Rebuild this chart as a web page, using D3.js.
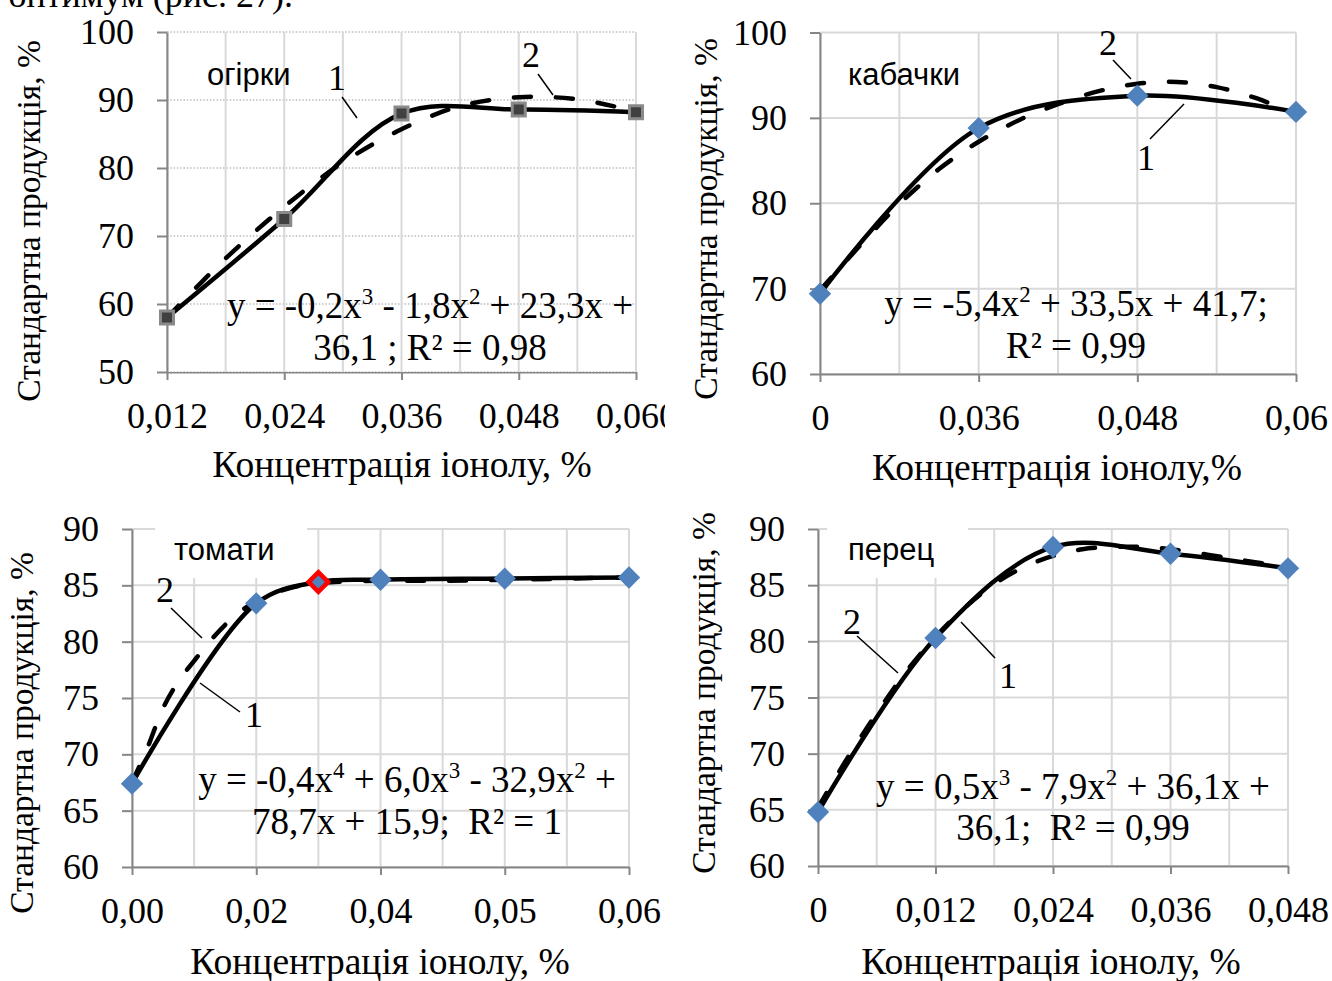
<!DOCTYPE html>
<html>
<head>
<meta charset="utf-8">
<script src="https://cdn.jsdelivr.net/npm/d3@7"></script>
<style>
  body { margin: 0; background: #fff; }
  svg { display: block; }
</style>
</head>
<body>
<svg id="chart" width="1332" height="981"></svg>
<script>
'use strict';

// ---- data ----

// огірки
var cucX = [0.012, 0.024, 0.036, 0.048, 0.060];
var cucY = [58.0, 72.5, 88.0, 88.6, 88.2];
var cucTrendX = [0.012, 0.018, 0.024, 0.030, 0.036, 0.042, 0.048, 0.054, 0.060];
var cucTrendY = [58.0, 66.7, 74.3, 80.8, 85.7, 89.1, 90.4, 90.1, 88.3];
var cucTicks = [0.012, 0.024, 0.036, 0.048, 0.060];
var cucTickLabels = ['0,012', '0,024', '0,036', '0,048', '0,060'];
var cucGrid = [0.012, 0.018, 0.024, 0.030, 0.036, 0.042, 0.048, 0.054, 0.060];
var cucYTicks = [50, 60, 70, 80, 90, 100];

// кабачки
var zucX = [0, 0.036, 0.048, 0.06];
var zucY = [69.4, 88.8, 92.6, 90.7];
var zucTrendX = [0, 0.009, 0.018, 0.027, 0.036, 0.039, 0.042, 0.045, 0.048, 0.051, 0.054, 0.057, 0.06];
var zucTrendY = [69.8, 75.0, 79.9, 84.0, 87.2, 89.7, 91.6, 93.1, 94.0, 94.2, 93.6, 92.3, 90.4];
var zucTicks = [0, 0.036, 0.048, 0.06];
var zucTickLabels = ['0', '0,036', '0,048', '0,06'];
var zucGrid = [0, 0.018, 0.036, 0.042, 0.048, 0.054, 0.06];
var zucYTicks = [60, 70, 80, 90, 100];

// томати
var tomX = [0, 0.02, 0.03, 0.04, 0.05, 0.06];
var tomY = [67.4, 83.4, 85.3, 85.5, 85.6, 85.7];
var tomBest = 0.03;
var tomTrendX = [0, 0.0025, 0.005, 0.0075, 0.01, 0.0125, 0.015, 0.0175, 0.02, 0.025, 0.03, 0.04, 0.045, 0.05, 0.055, 0.06];
var tomTrendY = [67.5, 70.6, 74.1, 76.5, 78.3, 80.0, 81.5, 82.7, 83.6, 84.7, 85.2, 85.4, 85.4, 85.5, 85.6, 85.7];
var tomTicks = [0, 0.02, 0.04, 0.05, 0.06];
var tomTickLabels = ['0,00', '0,02', '0,04', '0,05', '0,06'];
var tomGrid = [0, 0.01, 0.02, 0.03, 0.04, 0.045, 0.05, 0.055, 0.06];
var tomYTicks = [60, 65, 70, 75, 80, 85, 90];

// перец
var pepX = [0, 0.012, 0.024, 0.036, 0.048];
var pepY = [64.8, 80.3, 88.4, 87.8, 86.5];
var pepTrendX = [0, 0.003, 0.006, 0.009, 0.012, 0.015, 0.018, 0.021, 0.024, 0.027, 0.030, 0.033, 0.036, 0.042, 0.048];
var pepTrendY = [65.2, 69.6, 73.6, 77.3, 80.4, 83.0, 85.1, 86.6, 87.6, 88.2, 88.4, 88.4, 88.2, 87.4, 86.6];
var pepTicks = [0, 0.012, 0.024, 0.036, 0.048];
var pepTickLabels = ['0', '0,012', '0,024', '0,036', '0,048'];
var pepGrid = [0, 0.006, 0.012, 0.018, 0.024, 0.030, 0.036, 0.042, 0.048];
var pepYTicks = [60, 65, 70, 75, 80, 85, 90];

// ---- layout / style ----
var SERIF = '"Liberation Serif", "Times New Roman", serif';
var SANS = '"Liberation Sans", Arial, sans-serif';
var FS = 36;        // tick labels, callouts
var FS_EQ = 37;     // trend equations
var FS_XT = 37.5;   // x axis titles
var FS_YT = 33.5;   // y axis titles
var AXIS = '#868686';
var GRID = '#d9d9d9';
var BLUE = '#4f81bd';
var YTITLE = 'Стандартна продукція, %';

var panels = [
    {
        xs: cucX, ys: cucY, trendX: cucTrendX, trendY: cucTrendY,
        ticks: cucTicks, tickLabels: cucTickLabels, grid: cucGrid, yTicks: cucYTicks,
        box: {left: 167, right: 636, top: 32, bottom: 372},
        marker: 'square', dotted: true, clipRight: 665,
        name: 'огірки', nameAt: [207, 85], nameBox: null,
        xTitle: 'Концентрація іонолу, %', xTitleAt: [402, 477], yTitleAt: [40, 221],
        eq: ['y = -0,2x^3 - 1,8x^2 + 23,3x +', '36,1 ; R² = 0,98'], eqAt: [430, 318, 360],
        callouts: [
            {t: '1', at: [337, 90], line: [342, 97, 357, 118]},
            {t: '2', at: [531, 67], line: [538, 74, 553, 95]}
        ]
    },
    {
        xs: zucX, ys: zucY, trendX: zucTrendX, trendY: zucTrendY,
        ticks: zucTicks, tickLabels: zucTickLabels, grid: zucGrid, yTicks: zucYTicks,
        box: {left: 820, right: 1296, top: 32.5, bottom: 374},
        marker: 'diamond', dotted: false,
        name: 'кабачки', nameAt: [848, 85], nameBox: null,
        xTitle: 'Концентрація іонолу,%', xTitleAt: [1057, 480], yTitleAt: [717, 219],
        eq: ['y = -5,4x^2 + 33,5x + 41,7;', 'R² = 0,99'], eqAt: [1076, 316, 358],
        callouts: [
            {t: '2', at: [1108, 55], line: [1113, 60, 1131, 79]},
            {t: '1', at: [1146, 170], line: [1150, 139, 1184, 104]}
        ]
    },
    {
        xs: tomX, ys: tomY, trendX: tomTrendX, trendY: tomTrendY, best: tomBest,
        ticks: tomTicks, tickLabels: tomTickLabels, grid: tomGrid, yTicks: tomYTicks,
        box: {left: 132, right: 629, top: 529, bottom: 867},
        marker: 'diamond', dotted: false,
        name: 'томати', nameAt: [174, 560], nameBox: [-19, 152],
        xTitle: 'Концентрація іонолу, %', xTitleAt: [380, 974], yTitleAt: [33, 733],
        eq: ['y = -0,4x^4 + 6,0x^3 - 32,9x^2 +', '78,7x + 15,9;  R² = 1'], eqAt: [407, 792, 834],
        callouts: [
            {t: '2', at: [165, 602], line: [171, 608, 202, 638]},
            {t: '1', at: [254, 727], line: [200, 683, 240, 712]}
        ]
    },
    {
        xs: pepX, ys: pepY, trendX: pepTrendX, trendY: pepTrendY,
        ticks: pepTicks, tickLabels: pepTickLabels, grid: pepGrid, yTicks: pepYTicks,
        box: {left: 818, right: 1288, top: 529, bottom: 866},
        marker: 'diamond', dotted: false,
        name: 'перец', nameAt: [848, 560], nameBox: [-21, 141],
        xTitle: 'Концентрація іонолу, %', xTitleAt: [1051, 974], yTitleAt: [715, 693],
        eq: ['y = 0,5x^3 - 7,9x^2 + 36,1x +', '36,1;  R² = 0,99'], eqAt: [1073, 799, 840],
        callouts: [
            {t: '2', at: [852, 634], line: [857, 636, 898, 673]},
            {t: '1', at: [1008, 688], line: [961, 622, 995, 658]}
        ]
    }
];

var svg = d3.select('#chart');

// cut-off line of body text above the figure
svg.append('text')
    .attr('x', 293).attr('y', 7)
    .attr('text-anchor', 'end')
    .style('font-family', SERIF).style('font-size', FS + 'px')
    .text('оптимум (рис. 27).');

// Writes "x^3" style strings as text with raised tspans.
function richText(sel, str, fs) {
    var rise = 0;
    str.split(/\^(\d)/).forEach(function(part, i) {
        if (!part) return;
        var ts = sel.append('tspan').text(part);
        if (i % 2 === 1) {
            rise = fs * 0.38;
            ts.attr('dy', -rise).style('font-size', (fs * 0.62) + 'px');
        } else if (rise) {
            ts.attr('dy', rise);
            rise = 0;
        }
    });
}

panels.forEach(function(p, pi) {
    var b = p.box;
    var g = svg.append('g');

    // evenly spaced (possibly piecewise) x scale through the tick values
    var n = p.ticks.length;
    var x = d3.scaleLinear()
        .domain(p.ticks)
        .range(p.ticks.map(function(d, i) { return b.left + i * (b.right - b.left) / (n - 1); }));
    var y = d3.scaleLinear()
        .domain(d3.extent(p.yTicks))
        .range([b.bottom, b.top]);

    // gridlines
    g.append('g').selectAll('line')
        .data(p.yTicks)
        .join('line')
        .attr('x1', b.left).attr('x2', b.right)
        .attr('y1', function(d) { return y(d); })
        .attr('y2', function(d) { return y(d); })
        .attr('stroke', p.dotted ? '#bdbdbd' : GRID)
        .attr('stroke-width', p.dotted ? 1.5 : 2)
        .attr('stroke-dasharray', p.dotted ? '1.5,1.8' : null);

    g.append('g').selectAll('line')
        .data(p.grid)
        .join('line')
        .attr('x1', function(d) { return x(d); })
        .attr('x2', function(d) { return x(d); })
        .attr('y1', b.top).attr('y2', b.bottom)
        .attr('stroke', GRID)
        .attr('stroke-width', 2);

    // white box behind the crop name
    if (p.nameBox) {
        g.append('rect')
            .attr('x', p.nameAt[0] + p.nameBox[0])
            .attr('y', b.top - 1)
            .attr('width', p.nameBox[1])
            .attr('height', p.nameAt[1] + 18 - b.top + 1)
            .attr('fill', '#fff');
    }

    // axes
    var xAxis = d3.axisBottom(x)
        .tickValues(p.ticks)
        .tickFormat(function(d, i) { return p.tickLabels[i]; })
        .tickSize(8).tickSizeOuter(0).tickPadding(22);
    var yAxis = d3.axisLeft(y)
        .tickValues(p.yTicks)
        .tickFormat(d3.format('d'))
        .tickSize(10).tickSizeOuter(0).tickPadding(23);

    var gx = g.append('g')
        .attr('transform', 'translate(0,' + b.bottom + ')')
        .call(xAxis);
    var gy = g.append('g')
        .attr('transform', 'translate(' + b.left + ',0)')
        .call(yAxis);

    [gx, gy].forEach(function(ax) {
        ax.selectAll('path, line').attr('stroke', AXIS).attr('stroke-width', 2);
        ax.selectAll('text')
            .attr('fill', '#000')
            .style('font-family', SERIF)
            .style('font-size', FS + 'px');
    });

    if (p.clipRight) {
        var clipId = 'clip' + pi;
        svg.append('clipPath').attr('id', clipId)
            .append('rect').attr('x', 0).attr('y', 0).attr('width', p.clipRight).attr('height', 981);
        gx.attr('clip-path', 'url(#' + clipId + ')');
    }

    // curve 2: polynomial trend, dashed
    var line = d3.line()
        .x(function(d) { return x(d[0]); })
        .y(function(d) { return y(d[1]); })
        .curve(d3.curveCatmullRom.alpha(0.5));

    g.append('path')
        .datum(d3.zip(p.trendX, p.trendY))
        .attr('d', line)
        .attr('fill', 'none')
        .attr('stroke', '#000')
        .attr('stroke-width', 4.5)
        .attr('stroke-linecap', 'round')
        .attr('stroke-dasharray', '17,25');

    // curve 1: smoothed line through the measured points
    g.append('path')
        .datum(d3.zip(p.xs, p.ys))
        .attr('d', line)
        .attr('fill', 'none')
        .attr('stroke', '#000')
        .attr('stroke-width', 4.5)
        .attr('stroke-linejoin', 'round');

    // markers
    var pts = d3.zip(p.xs, p.ys);
    if (p.marker === 'square') {
        g.append('g').selectAll('path')
            .data(pts)
            .join('path')
            .attr('d', d3.symbol(d3.symbolSquare, 170))
            .attr('transform', function(d) { return 'translate(' + x(d[0]) + ',' + y(d[1]) + ')'; })
            .attr('fill', '#404040')
            .attr('stroke', '#8a8a8a')
            .attr('stroke-width', 3);
    } else {
        g.append('g').selectAll('path')
            .data(pts)
            .join('path')
            .attr('d', function(d) {
                return d3.symbol(d3.symbolSquare, d[0] === p.best ? 190 : 250)();
            })
            .attr('transform', function(d) {
                return 'translate(' + x(d[0]) + ',' + y(d[1]) + ') rotate(45)';
            })
            .attr('fill', BLUE)
            .attr('stroke', function(d) { return d[0] === p.best ? '#ff0000' : 'none'; })
            .attr('stroke-width', 4.5);
    }

    // crop name
    g.append('text')
        .attr('x', p.nameAt[0]).attr('y', p.nameAt[1])
        .style('font-family', SANS).style('font-size', '31px')
        .text(p.name);

    // callouts "1" / "2"
    p.callouts.forEach(function(c) {
        g.append('text')
            .attr('x', c.at[0]).attr('y', c.at[1])
            .attr('text-anchor', 'middle')
            .style('font-family', SERIF).style('font-size', FS + 'px')
            .text(c.t);
        g.append('line')
            .attr('x1', c.line[0]).attr('y1', c.line[1])
            .attr('x2', c.line[2]).attr('y2', c.line[3])
            .attr('stroke', '#000').attr('stroke-width', 1.5);
    });

    // trend equation (keeps the double spaces of the original)
    p.eq.forEach(function(s, i) {
        var t = g.append('text')
            .attr('x', p.eqAt[0]).attr('y', p.eqAt[1 + i])
            .attr('text-anchor', 'middle')
            .style('white-space', 'pre')
            .style('font-family', SERIF).style('font-size', FS_EQ + 'px');
        richText(t, s, FS_EQ);
    });

    // axis titles
    g.append('text')
        .attr('x', p.xTitleAt[0]).attr('y', p.xTitleAt[1])
        .attr('text-anchor', 'middle')
        .style('font-family', SERIF).style('font-size', FS_XT + 'px')
        .text(p.xTitle);

    g.append('text')
        .attr('transform', 'translate(' + p.yTitleAt[0] + ',' + p.yTitleAt[1] + ') rotate(-90)')
        .attr('text-anchor', 'middle')
        .style('font-family', SERIF).style('font-size', FS_YT + 'px')
        .text(YTITLE);
});
</script>
</body>
</html>
